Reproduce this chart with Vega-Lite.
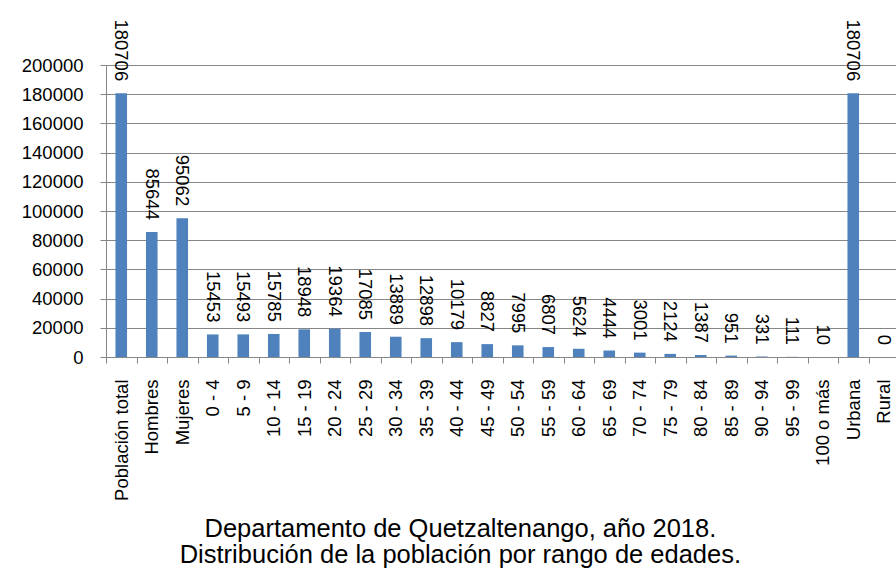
{
  "$schema": "https://vega.github.io/schema/vega-lite/v6.json",
  "width": 793,
  "height": 292,
  "autosize": {"type": "none"},
  "padding": {"left": 106, "top": 65, "right": 0, "bottom": 215},
  "background": "white",
  "config": {"view": {"stroke": null}, "font": "Liberation Sans"},
  "title": {
    "text": ["Departamento de Quetzaltenango, año 2018.", "Distribución de la población por rango de edades."],
    "orient": "bottom",
    "anchor": "middle",
    "frame": "bounds",
    "font": "Liberation Sans",
    "fontSize": 25.5,
    "fontWeight": "normal",
    "color": "black",
    "lineHeight": 26,
    "offset": 17
  },
  "data": {
    "values": [
      {"categoria": "Población total", "poblacion": 180706},
      {"categoria": "Hombres", "poblacion": 85644},
      {"categoria": "Mujeres", "poblacion": 95062},
      {"categoria": "0 - 4", "poblacion": 15453},
      {"categoria": "5 - 9", "poblacion": 15493},
      {"categoria": "10 - 14", "poblacion": 15785},
      {"categoria": "15 - 19", "poblacion": 18948},
      {"categoria": "20 - 24", "poblacion": 19364},
      {"categoria": "25 - 29", "poblacion": 17085},
      {"categoria": "30 - 34", "poblacion": 13889},
      {"categoria": "35 - 39", "poblacion": 12898},
      {"categoria": "40 - 44", "poblacion": 10179},
      {"categoria": "45 - 49", "poblacion": 8827},
      {"categoria": "50 - 54", "poblacion": 7995},
      {"categoria": "55 - 59", "poblacion": 6807},
      {"categoria": "60 - 64", "poblacion": 5624},
      {"categoria": "65 - 69", "poblacion": 4444},
      {"categoria": "70 - 74", "poblacion": 3001},
      {"categoria": "75 - 79", "poblacion": 2124},
      {"categoria": "80 - 84", "poblacion": 1387},
      {"categoria": "85 - 89", "poblacion": 951},
      {"categoria": "90 - 94", "poblacion": 331},
      {"categoria": "95 - 99", "poblacion": 111},
      {"categoria": "100 o más", "poblacion": 10},
      {"categoria": "Urbana", "poblacion": 180706},
      {"categoria": "Rural", "poblacion": 0}
    ]
  },
  "encoding": {
    "x": {
      "field": "categoria",
      "type": "nominal",
      "sort": null,
      "scale": {"paddingInner": 0, "paddingOuter": 0},
      "axis": {
        "title": null,
        "labelAngle": -90,
        "labelAlign": "right",
        "labelBaseline": "middle",
        "labelFont": "Liberation Sans",
        "labelFontSize": 18.5,
        "labelColor": "black",
        "labelPadding": 16,
        "tickBand": "extent",
        "tickSize": 6,
        "tickColor": "#868686",
        "domainColor": "#868686",
        "grid": false
      }
    },
    "y": {
      "field": "poblacion",
      "type": "quantitative",
      "scale": {"domain": [0, 200000], "nice": false},
      "axis": {
        "title": null,
        "values": [0, 20000, 40000, 60000, 80000, 100000, 120000, 140000, 160000, 180000, 200000],
        "format": "d",
        "labelFont": "Liberation Sans",
        "labelFontSize": 18.5,
        "labelColor": "black",
        "labelPadding": 17,
        "tickSize": 6,
        "tickColor": "#868686",
        "domainColor": "#868686",
        "gridColor": "#868686",
        "gridOpacity": 1
      }
    }
  },
  "layer": [
    {"mark": {"type": "bar", "width": {"band": 0.38}, "color": "#4F81BD"}},
    {
      "mark": {"type": "text", "angle": 90, "align": "right", "baseline": "middle", "dx": -12, "font": "Liberation Sans", "fontSize": 18.5, "color": "black"},
      "encoding": {"text": {"field": "poblacion", "type": "quantitative", "format": "d"}}
    }
  ]
}
